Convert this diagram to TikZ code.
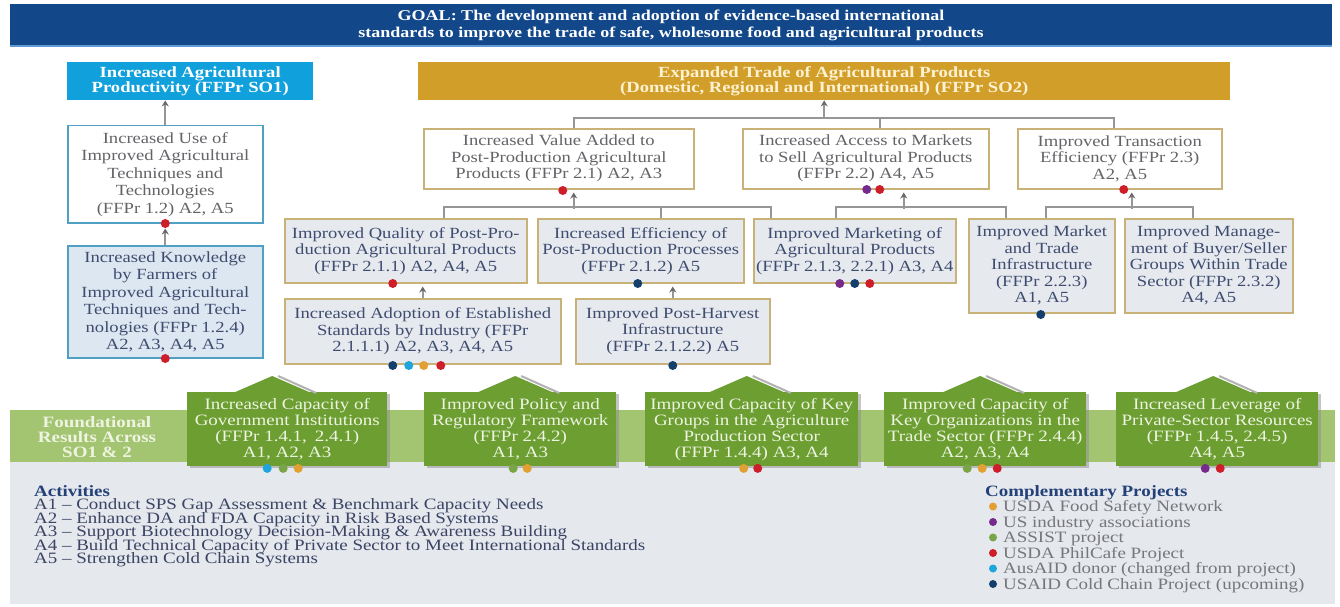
\documentclass[tikz,border=0pt]{standalone}
\usepackage{fontspec}
\setmainfont{Liberation Serif}[FakeStretch=1.2]
\usetikzlibrary{arrows.meta,calc,shadows}

\definecolor{goalblue}{RGB}{18,72,138}
\definecolor{goalstripe}{RGB}{95,155,210}
\definecolor{sonecyan}{RGB}{16,160,220}
\definecolor{sotwogold}{RGB}{210,158,42}
\definecolor{goldtext}{RGB}{255,242,210}
\definecolor{tanline}{RGB}{200,178,120}
\definecolor{tealline}{RGB}{80,160,195}
\definecolor{paleblue}{RGB}{221,231,241}
\definecolor{palegrey}{RGB}{230,233,238}
\definecolor{greytext}{RGB}{100,100,104}
\definecolor{bluetext}{RGB}{62,76,112}
\definecolor{linegrey}{RGB}{150,150,150}
\definecolor{arrowgrey}{RGB}{105,105,105}
\definecolor{bandgreen}{RGB}{163,196,112}
\definecolor{boxgreen}{RGB}{108,158,50}
\definecolor{greentext}{RGB}{238,244,225}
\definecolor{panelgrey}{RGB}{229,232,237}
\definecolor{navytitle}{RGB}{35,65,120}
\definecolor{listtext}{RGB}{58,68,100}
\definecolor{projtext}{RGB}{118,118,124}
\definecolor{dred}{RGB}{205,30,42}
\definecolor{dpurple}{RGB}{118,42,140}
\definecolor{dnavy}{RGB}{20,62,108}
\definecolor{dcyan}{RGB}{30,165,222}
\definecolor{dorange}{RGB}{226,160,50}
\definecolor{dgreen}{RGB}{122,165,70}

\newcommand\fsz[2]{\fontsize{#1pt}{#2pt}\selectfont}
\newcommand\tightlines{\setlength{\lineskiplimit}{-20pt}\setlength{\lineskip}{0pt}}

\begin{document}
\begin{tikzpicture}[x=1pt,y=-1pt,
  conn/.style={draw=linegrey,line width=1.6pt},
  arr/.style={conn,-{Stealth[length=6pt,width=7pt,color=arrowgrey]}},
  goalbar/.style={fill=goalblue,text=white,align=center,inner sep=0pt,
    minimum width=1322pt,minimum height=43pt,font=\bfseries\fsz{15}{16.5}},
  sobox/.style={anchor=north west,align=center,inner sep=0pt,
    font=\bfseries\fsz{15.5}{15.5}},
  leftbox/.style={anchor=north west,align=center,inner sep=1pt,draw=tealline,
    line width=1.5pt,font=\fsz{15.5}{17.5}},
  rowtwo/.style={anchor=north west,align=center,inner sep=1pt,fill=white,
    draw=tanline,line width=1.5pt,text=greytext,font=\fsz{15.5}{16.5}},
  rowthree/.style={anchor=north west,align=center,inner sep=1pt,fill=palegrey,
    draw=tanline,line width=1.5pt,text=bluetext,font=\fsz{15.5}{16.5}},
  gbox/.style={anchor=north west,align=center,inner sep=1pt,fill=boxgreen,
    text=greentext,minimum height=74pt,font=\fsz{15.8}{16},
    drop shadow={shadow xshift=3pt,shadow yshift=-2pt,fill=black!45}},
  roofshade/.style={draw=black!30,line width=2pt},
  dot/.style={radius=4.5pt},
  legtitle/.style={anchor=base west,inner sep=0pt,text=navytitle,font=\bfseries\fsz{15.8}{15}},
  legitem/.style={anchor=base west,inner sep=0pt,text=projtext,font=\fsz{15.8}{15}}
]
\useasboundingbox (0,0) rectangle (1340,607);
\fill[white] (0,0) rectangle (1340,607);

% goal banner
\node[goalbar] (goal) at (671,25.5) {GOAL: The development and adoption of evidence-based international\\standards to improve the trade of safe, wholesome food and agricultural products};
\draw[goalstripe,line width=2pt] ([yshift=1pt]goal.south west) -- ([yshift=1pt]goal.south east);

% strategic objectives
\node[sobox,fill=sonecyan,text=white,minimum width=246pt,minimum height=38pt] (so1) at (67,62)
  {Increased Agricultural\\Productivity (FFPr SO1)};
\node[sobox,fill=sotwogold,text=goldtext,minimum width=812pt,minimum height=38pt] (so2) at (418,62)
  {Expanded Trade of Agricultural Products\\(Domestic, Regional and International) (FFPr SO2)};

% SO1 column
\node[leftbox,fill=white,text=greytext,minimum width=195pt,minimum height=97pt] (use) at (67,125)
  {Increased Use of\\Improved Agricultural\\Techniques and\\Technologies\\(FFPr 1.2) A2, A5};
\node[leftbox,fill=paleblue,text=bluetext,minimum width=195pt,minimum height=112pt] (know) at (67,245)
  {Increased Knowledge\\by Farmers of\\Improved Agricultural\\Techniques and Tech-\\nologies (FFPr 1.2.4)\\A2, A3, A4, A5};

% SO2 intermediate results
\node[rowtwo,minimum width=270pt,minimum height=60pt] (va) at (423,128)
  {Increased Value Added to\\Post-Production Agricultural\\Products (FFPr 2.1) A2, A3};
\node[rowtwo,minimum width=246pt,minimum height=60pt] (acc) at (742,128)
  {Increased Access to Markets\\to Sell Agricultural Products\\(FFPr 2.2) A4, A5};
\node[rowtwo,minimum width=204pt,minimum height=60pt] (tr) at (1017,128)
  {Improved Transaction\\Efficiency (FFPr 2.3)\\A2, A5};

% sub-results
\node[rowthree,minimum width=242pt,minimum height=64pt] (qual) at (284,218)
  {Improved Quality of Post-Pro-\\duction Agricultural Products\\(FFPr 2.1.1) A2, A4, A5};
\node[rowthree,minimum width=206pt,minimum height=64pt] (eff) at (537,218)
  {Increased Efficiency of\\Post-Production Processes\\(FFPr 2.1.2) A5};
\node[rowthree,minimum width=202pt,minimum height=64pt] (mkt) at (753,218)
  {Improved Marketing of\\Agricultural Products\\(FFPr 2.1.3, 2.2.1) A3, A4};
\node[rowthree,minimum width=146pt,minimum height=94pt] (infra) at (968,218)
  {Improved Market\\and Trade\\Infrastructure\\(FFPr 2.2.3)\\A1, A5};
\node[rowthree,minimum width=168pt,minimum height=94pt] (mgmt) at (1124,218)
  {Improved Manage-\\ment of Buyer/Seller\\Groups Within Trade\\Sector (FFPr 2.3.2)\\A4, A5};
\node[rowthree,minimum width=276pt,minimum height=65pt] (adopt) at (284,298)
  {Increased Adoption of Established\\Standards by Industry (FFPr\\2.1.1.1) A2, A3, A4, A5};
\node[rowthree,minimum width=194pt,minimum height=65pt] (harv) at (575,298)
  {Improved Post-Harvest\\Infrastructure\\(FFPr 2.1.2.2) A5};

% connectors, SO1 column
\draw[arr] (use.north) -- (use.north |- so1.south);
\draw[arr,shorten >=5pt] (know.north) -- (use.south);

% connectors into SO2
\coordinate (bus2) at ($(so2.south)+(0,18)$);
\draw[arr] (bus2) -- (so2.south);
\draw[conn] ($(va.north)+(15,0)$) |- ($(tr.north)+(-6,-10)$) -- ($(tr.north)+(-6,0)$);
\draw[conn] ($(acc.north)+(14,0)$) -- ($(acc.north)+(14,-10)$);

% connectors into value added
\draw[conn] ($(qual.north)+(38,0)$) |- ($(mkt.north)+(-84,-11)$) -- ($(mkt.north)+(-84,0)$);
\draw[conn] ($(eff.north)+(20,0)$) -- ($(eff.north)+(20,-11)$);
\draw[arr,shorten >=3pt] ($(va.south)+(15,19)$) -- ($(va.south)+(15,0)$);
% connectors into market access
\draw[conn] ($(mkt.north)+(-19,0)$) |- ($(infra.north)+(-36,-11)$) -- ($(infra.north)+(-36,0)$);
\draw[arr,shorten >=3pt] ($(acc.south)+(38,19)$) -- ($(acc.south)+(38,0)$);
% connectors into transaction efficiency
\draw[conn] ($(infra.north)+(4,0)$) |- ($(mgmt.north)+(-16,-11)$) -- ($(mgmt.north)+(-16,0)$);
\draw[arr,shorten >=3pt] ($(tr.south)+(12,19)$) -- ($(tr.south)+(12,0)$);
% lower level
\draw[arr,shorten >=3pt] (adopt.north) -- (adopt.north |- qual.south);
\draw[arr,shorten >=3pt] (harv.north) -- (harv.north |- eff.south);

% foundational results band and activity panel
\fill[panelgrey] (10,462) rectangle (1335,604);
\fill[bandgreen] (10,410) rectangle (1335,462);
\node[align=center,text=greentext,font=\bfseries\fsz{15.8}{15}] (found) at (97,437)
  {Foundational\\Results Across\\SO1 \& 2};

\node[gbox,minimum width=200pt] (g1) at (187,392)
  {Increased Capacity of\\Government Institutions\\(FFPr 1.4.1,\enspace 2.4.1)\\A1, A2, A3};
\node[gbox,minimum width=192pt] (g2) at (424,392)
  {Improved Policy and\\Regulatory Framework\\(FFPr 2.4.2)\\A1, A3};
\node[gbox,minimum width=213pt] (g3) at (645,392)
  {Improved Capacity of Key\\Groups in the Agriculture\\Production Sector\\(FFPr 1.4.4) A3, A4};
\node[gbox,minimum width=202pt] (g4) at (884,392)
  {Improved Capacity of\\Key Organizations in the\\Trade Sector (FFPr 2.4.4)\\A2, A3, A4};
\node[gbox,minimum width=202pt] (g5) at (1116,392)
  {Increased Leverage of\\Private-Sector Resources\\(FFPr 1.4.5, 2.4.5)\\A4, A5};

% upward pointing roofs on the foundational boxes
\foreach \g/\dx in {g1/-15,g2/-5,g3/-5,g4/-5,g5/-4}{
  \draw[roofshade] ($(\g.north)+(\dx+6,-16)$) -- ($(\g.north)+(\dx+44,1)$);
  \fill[boxgreen] ($(\g.north)+(\dx-38,0.5)$) -- ($(\g.north)+(\dx,-16)$) -- ($(\g.north)+(\dx+38,0.5)$) -- cycle;
}

% project dots
\fill[dred] (use.south) circle[dot];
\fill[dred] (know.south) circle[dot];
\fill[dred] ($(va.south)+(4,1)$) circle[dot];
\fill[dpurple] ($(acc.south)+(1,0)$) circle[dot];
\fill[dred] ($(acc.south)+(14,0)$) circle[dot];
\fill[dred] ($(tr.south)+(4,0)$) circle[dot];
\fill[dred] ($(qual.south)+(-13,0)$) circle[dot];
\fill[dnavy] ($(eff.south)+(-3,0)$) circle[dot];
\fill[dpurple] ($(mkt.south)+(-15,0)$) circle[dot];
\fill[dnavy] ($(mkt.south)+(0,0)$) circle[dot];
\fill[dred] ($(mkt.south)+(15,0)$) circle[dot];
\fill[dnavy] ($(infra.south)+(-1,1)$) circle[dot];
\fill[dnavy] ($(adopt.south)+(-30,1)$) circle[dot];
\fill[dcyan] ($(adopt.south)+(-14,1)$) circle[dot];
\fill[dorange] ($(adopt.south)+(1,1)$) circle[dot];
\fill[dred] ($(adopt.south)+(18,1)$) circle[dot];
\fill[dnavy] ($(harv.south)+(0,1)$) circle[dot];
\fill[dcyan] ($(g1.south)+(-20,2)$) circle[dot];
\fill[dgreen] ($(g1.south)+(-4,2)$) circle[dot];
\fill[dorange] ($(g1.south)+(11,2)$) circle[dot];
\fill[dgreen] ($(g2.south)+(-7,2)$) circle[dot];
\fill[dorange] ($(g2.south)+(7,2)$) circle[dot];
\fill[dorange] ($(g3.south)+(-8,2)$) circle[dot];
\fill[dred] ($(g3.south)+(6,2)$) circle[dot];
\fill[dgreen] ($(g4.south)+(-18,2)$) circle[dot];
\fill[dorange] ($(g4.south)+(-3,2)$) circle[dot];
\fill[dred] ($(g4.south)+(12,2)$) circle[dot];
\fill[dpurple] ($(g5.south)+(-12,2)$) circle[dot];
\fill[dred] ($(g5.south)+(3,2)$) circle[dot];

% activities list
\node[anchor=north west,align=left,inner sep=0pt,text=listtext,
      font=\fsz{15.8}{13.5}\tightlines] (acts) at (34,485)
  {{\bfseries\color{navytitle}Activities}\\
   A1 – Conduct SPS Gap Assessment \& Benchmark Capacity Needs\\
   A2 – Enhance DA and FDA Capacity in Risk Based Systems\\
   A3 – Support Biotechnology Decision-Making \& Awareness Building\\
   A4 – Build Technical Capacity of Private Sector to Meet International Standards\\
   A5 – Strengthen Cold Chain Systems};

% complementary projects legend
\node[legtitle] (ptitle) at (985,496) {Complementary Projects};
\foreach \c/\t [count=\i] in {dorange/USDA Food Safety Network,
    dpurple/US industry associations,
    dgreen/ASSIST project,
    dred/USDA PhilCafe Project,
    dcyan/AusAID donor (changed from project),
    dnavy/USAID Cold Chain Project (upcoming)}{
  \node[legitem] (p\i) at ($(ptitle.base west)+(18,15.5*\i)$) {\t};
  \fill[\c] ($(p\i.base west)+(-10,-5)$) circle[radius=4pt];
}
\end{tikzpicture}
\end{document}
